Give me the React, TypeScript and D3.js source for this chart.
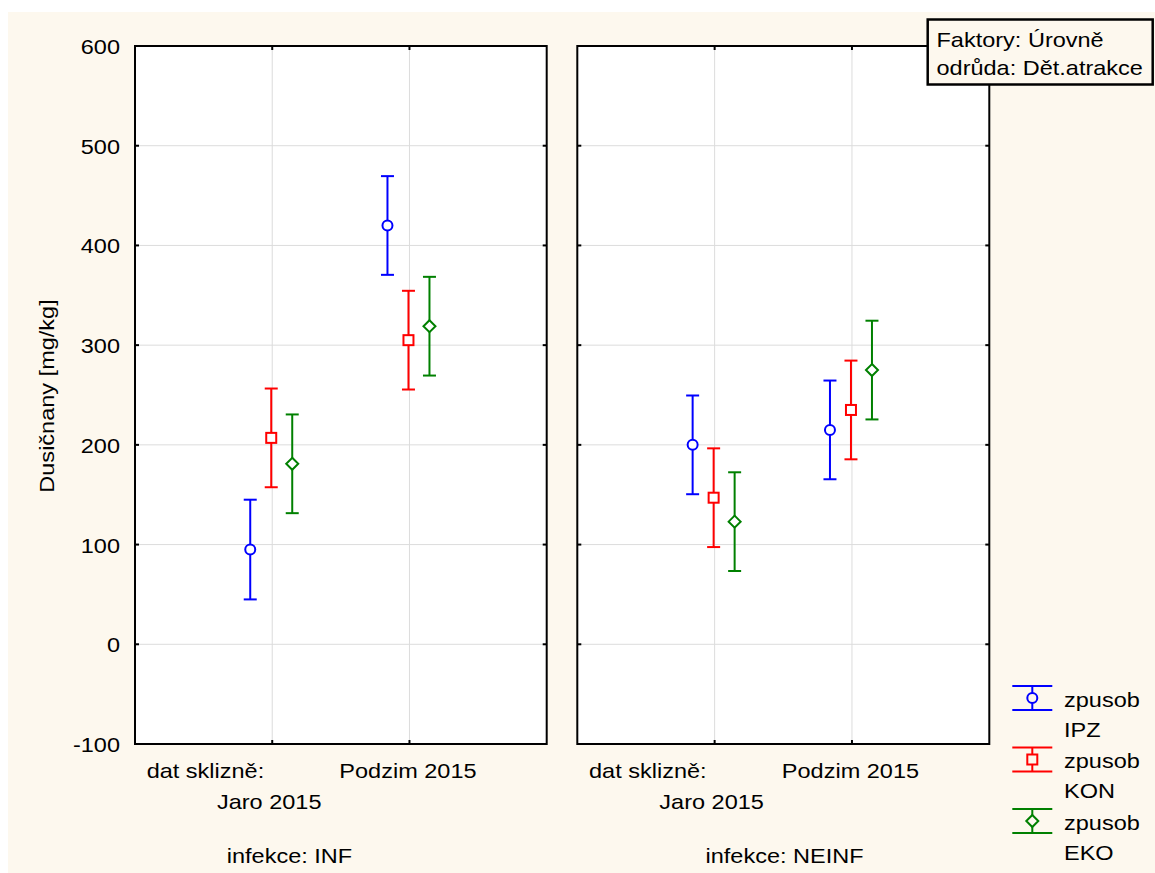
import React from "react";
import * as d3 from "d3";

// Nitrate content by harvest date, split by infection status
const categories = ["Jaro 2015", "Podzim 2015"];
const panels = ["INF", "NEINF"];
const series = ["IPZ", "KON", "EKO"];
const yTicks = [-100, 0, 100, 200, 300, 400, 500, 600];

// means [Jaro, Podzim] for each panel
const meanINF_IPZ = [95, 420];
const meanINF_KON = [207, 305];
const meanINF_EKO = [181, 319];
const meanNEINF_IPZ = [200, 215];
const meanNEINF_KON = [147, 235];
const meanNEINF_EKO = [123, 275];

// half-width of the 95% confidence interval
const ciINF_IPZ = [50, 49.5];
const ciINF_KON = [49.5, 49.5];
const ciINF_EKO = [49.5, 49.5];
const ciNEINF_IPZ = [49.5, 49.5];
const ciNEINF_KON = [49.5, 49.5];
const ciNEINF_EKO = [49.5, 49.5];

const means: Record<string, number[][]> = {
  INF: [meanINF_IPZ, meanINF_KON, meanINF_EKO],
  NEINF: [meanNEINF_IPZ, meanNEINF_KON, meanNEINF_EKO],
};
const cis: Record<string, number[][]> = {
  INF: [ciINF_IPZ, ciINF_KON, ciINF_EKO],
  NEINF: [ciNEINF_IPZ, ciNEINF_KON, ciNEINF_EKO],
};

const colors = ["#0000ff", "#ff0000", "#008000"];
const BG = "#fdf8ee";
const FONT = "'Liberation Sans', Arial, sans-serif";
const SX = 1.12;

const W = 1155;
const H = 873;
const top = 46;
const bottom = 744;
const panelBox = [
  { x0: 135, x1: 546.7, titleX: 289.5 },
  { x0: 577.3, x1: 989.3, titleX: 784.5 },
];

const y = d3.scaleLinear().domain([-100, 600]).range([bottom, top]);
const offset = d3.scalePoint<string>().domain(series).range([-21, 21]);

function Label({ x, y, children, anchor = "start", size = 21, rotate = 0 }: any) {
  return (
    <g transform={`translate(${x},${y}) rotate(${rotate}) scale(${SX},1)`}>
      <text x={0} y={0} textAnchor={anchor} fontSize={size} fontFamily={FONT} fill="#000">
        {children}
      </text>
    </g>
  );
}

function Marker({ kind, cx, cy, color, fill }: any) {
  if (kind === 0) return <circle cx={cx} cy={cy} r={5} fill={fill} stroke={color} strokeWidth={2} />;
  if (kind === 1)
    return <rect x={cx - 5} y={cy - 5} width={10} height={10} fill={fill} stroke={color} strokeWidth={2} />;
  const p = d3.path();
  p.moveTo(cx, cy - 6);
  p.lineTo(cx + 6, cy);
  p.lineTo(cx, cy + 6);
  p.lineTo(cx - 6, cy);
  p.closePath();
  return <path d={p.toString()} fill={fill} stroke={color} strokeWidth={2} />;
}

function ErrorBar({ x, yTop, yBot, yMid, color, kind, capW, fill }: any) {
  return (
    <g>
      <line x1={x} x2={x} y1={yTop} y2={yBot} stroke={color} strokeWidth={2} />
      <line x1={x - capW} x2={x + capW} y1={yTop} y2={yTop} stroke={color} strokeWidth={2} />
      <line x1={x - capW} x2={x + capW} y1={yBot} y2={yBot} stroke={color} strokeWidth={2} />
      <Marker kind={kind} cx={x} cy={yMid} color={color} fill={fill} />
    </g>
  );
}

export default function App() {
  return (
    <svg width={W} height={H} style={{ position: "absolute", left: 0, top: 0 }}>
      <rect x={0} y={0} width={W} height={H} fill="#fff" />
      <rect x={8} y={12} width={W - 8} height={H - 12} fill={BG} />

      {/* y axis title */}
      <Label x={54} y={396} anchor="middle" size={21} rotate={-90}>
        Dusičnany [mg/kg]
      </Label>

      {/* y tick labels */}
      {yTicks.map((t) => (
        <Label key={t} x={120} y={y(t) + 8} anchor="end">
          {t}
        </Label>
      ))}

      {panels.map((pn, pi) => {
        const { x0, x1, titleX } = panelBox[pi];
        const x = d3.scalePoint<string>().domain(categories).range([x0, x1]).padding(1);
        return (
          <g key={pn}>
            <rect x={x0} y={top} width={x1 - x0} height={bottom - top} fill="#fff" />
            {yTicks.map((t) => (
              <line key={t} x1={x0} x2={x1} y1={y(t)} y2={y(t)} stroke="#dcdcdc" strokeWidth={1} />
            ))}
            {categories.map((c) => (
              <line key={c} x1={x(c)!} x2={x(c)!} y1={top} y2={bottom} stroke="#dcdcdc" strokeWidth={1} />
            ))}
            {/* inward ticks */}
            {yTicks.map((t) => (
              <g key={"t" + t}>
                <line x1={x0} x2={x0 + 4} y1={y(t)} y2={y(t)} stroke="#000" strokeWidth={2} />
                <line x1={x1 - 4} x2={x1} y1={y(t)} y2={y(t)} stroke="#000" strokeWidth={2} />
              </g>
            ))}
            {categories.map((c) => (
              <g key={"c" + c}>
                <line x1={x(c)!} x2={x(c)!} y1={top} y2={top + 4} stroke="#000" strokeWidth={2} />
                <line x1={x(c)!} x2={x(c)!} y1={bottom - 4} y2={bottom} stroke="#000" strokeWidth={2} />
              </g>
            ))}
            <rect x={x0} y={top} width={x1 - x0} height={bottom - top} fill="none" stroke="#000" strokeWidth={2} />

            {series.map((s, si) =>
              categories.map((c, ci) => {
                const m = means[pn][si][ci];
                const h = cis[pn][si][ci];
                const cx = x(c)! - 1 + offset(s)!;
                return (
                  <ErrorBar
                    key={s + c}
                    x={cx}
                    yTop={y(m + h)}
                    yBot={y(m - h)}
                    yMid={y(m)}
                    color={colors[si]}
                    kind={si}
                    capW={6.5}
                    fill="#fff"
                  />
                );
              })
            )}

            {/* category labels */}
            <Label x={x(categories[0])! - 8} y={778} anchor="end">
              dat sklizně:
            </Label>
            <Label x={x(categories[0])! - 3} y={809} anchor="middle">
              {categories[0]}
            </Label>
            <Label x={x(categories[1])! - 1.5} y={778} anchor="middle">
              {categories[1]}
            </Label>
            <Label x={titleX} y={863} anchor="middle">
              {`infekce: ${pn}`}
            </Label>
          </g>
        );
      })}

      {/* factor box */}
      <rect x={927.7} y={19.5} width={225} height={65} fill={BG} stroke="#000" strokeWidth={2.5} />
      <Label x={936.5} y={46.5}>Faktory: Úrovně</Label>
      <Label x={936.5} y={75}>odrůda: Dět.atrakce</Label>

      {/* legend */}
      {series.map((s, si) => {
        const cy = 698 + si * 61.5;
        return (
          <g key={"leg" + s}>
            <ErrorBar
              x={1032.3}
              yTop={cy - 12}
              yBot={cy + 12}
              yMid={cy}
              color={colors[si]}
              kind={si}
              capW={20}
              fill={BG}
            />
            <Label x={1064} y={cy + 8.5}>zpusob</Label>
            <Label x={1064} y={cy + 38.5}>{s}</Label>
          </g>
        );
      })}
    </svg>
  );
}
